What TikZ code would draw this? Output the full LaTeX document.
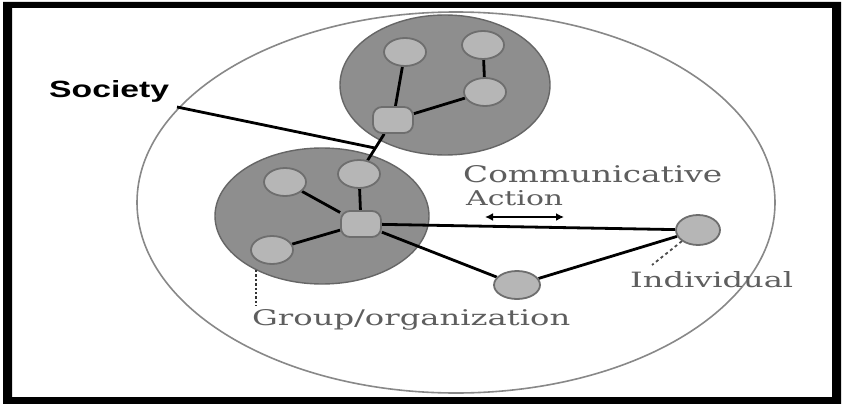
\documentclass[tikz,border=0pt]{standalone}
\usepackage{fontspec}
\setmainfont{DejaVu Serif}
\newfontfamily\socfont{Liberation Sans}
\usetikzlibrary{shapes.geometric,arrows.meta,calc}
\definecolor{grpfill}{HTML}{8E8E8E}
\definecolor{grpline}{HTML}{666666}
\definecolor{actfill}{HTML}{B6B6B6}
\definecolor{actline}{HTML}{6E6E6E}
\definecolor{socline}{HTML}{888888}
\definecolor{lblgray}{HTML}{5E5E5E}
\pgfdeclarelayer{paper}
\pgfdeclarelayer{back}
\pgfdeclarelayer{mid}
\pgfsetlayers{paper,back,mid,main}
\newcommand{\fitbox}[3]{\resizebox{#1}{#2}{#3}}
\begin{document}
\begin{tikzpicture}[x=1pt,y=-1pt,
  grp/.style={ellipse,draw=grpline,fill=grpfill,line width=1.4pt,inner sep=0},
  actor/.style={ellipse,draw=actline,fill=actfill,line width=1.8pt,minimum width=42pt,minimum height=28pt,inner sep=0},
  hubnode/.style={rectangle,rounded corners=9pt,draw=actline,fill=actfill,line width=1.8pt,minimum width=40pt,minimum height=26pt,inner sep=0},
  tie/.style={line width=2.8pt,black},
  lbl/.style={inner sep=0,anchor=base west,text=lblgray}]
\useasboundingbox (0,0) rectangle (843,404);
\begin{pgfonlayer}{paper}
\fill[white] (0,0) rectangle (843,404);
\fill[black,even odd rule] (3,2) rectangle (841,404) (12,8) rectangle (832,397);
\end{pgfonlayer}

% society outline and groups
\begin{pgfonlayer}{back}
\node[ellipse,draw=socline,line width=1.6pt,minimum width=638pt,minimum height=381pt,inner sep=0] (soc) at (456,202.5) {};
\node[grp,minimum width=210pt,minimum height=140pt] (gtop) at (445,85) {};
\node[grp,minimum width=214pt,minimum height=136pt] (gbot) at (322,216) {};
\end{pgfonlayer}

% actors
\node[actor] (n1) at (405,52) {};
\node[actor] (n2) at (483,45) {};
\node[actor] (n3) at (485,92) {};
\node[hubnode] (n4) at (393,120) {};
\node[actor] (m1) at (285,182) {};
\node[actor] (m2) at (359,174) {};
\node[hubnode] (m3) at (361,224) {};
\node[actor] (m4) at (272,250) {};
\node[actor,minimum width=46pt] (p) at (517,285) {};
\node[actor,minimum width=44pt,minimum height=30pt] (ind) at (698,230) {};

% ties
\begin{pgfonlayer}{mid}
\draw[tie] (n1) -- (n4);
\draw[tie] (n2) -- (n3);
\draw[tie] (n3) -- (n4);
\draw[tie] (n4) -- (m2);
\draw[tie] (m2) -- (m3);
\draw[tie] (m1) -- (m3);
\draw[tie] (m4) -- (m3);
\draw[tie] (m3) -- (ind);
\draw[tie] (m3) -- (p);
\draw[tie] (p) -- (ind);
\coordinate (jn) at ($(n4)!0.52!(m2)$);
\end{pgfonlayer}

% labels
\node[inner sep=0,anchor=base west] (soclbl) at (49,97) {\socfont\bfseries\fitbox{120pt}{17pt}{Society}};
\coordinate (socend) at (177,107);
\begin{pgfonlayer}{mid}
\draw[tie] (socend) -- (jn);
\end{pgfonlayer}

\node[lbl] (ca1) at (463,182) {\fitbox{259pt}{17pt}{Communicative}};
\node[lbl] (ca2) at (466,205) {\fitbox{97pt}{15pt}{Action}};
\coordinate (aL) at (485,217);
\coordinate (aR) at (564,217);
\draw[line width=2.4pt,{Latex[length=8pt,width=8pt]}-{Latex[length=8pt,width=8pt]}] (aL) -- (aR);

\node[lbl] (indlbl) at (630,287) {\fitbox{163pt}{16pt}{Individual}};
\coordinate (indtip) at (652,265);
\draw[dashed,line width=1.8pt,black!70] (ind.south west) -- (indtip);

\node[lbl] (grplbl) at (252,325) {\fitbox{318pt}{16pt}{Group/organization}};
\coordinate (grptip) at (256,270);
\coordinate (grpend) at (256,306);
\draw[dotted,line width=2.4pt,black!80] (grptip) -- (grpend);
\end{tikzpicture}
\end{document}
